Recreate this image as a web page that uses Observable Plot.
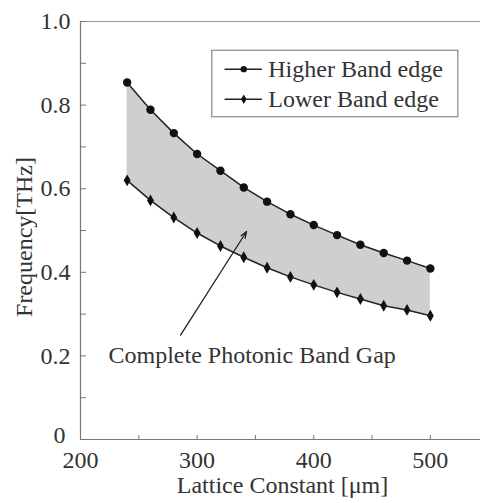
<!DOCTYPE html>
<html><head><meta charset="utf-8">
<script src="https://cdn.jsdelivr.net/npm/d3@7"></script>
<script src="https://cdn.jsdelivr.net/npm/@observablehq/plot@0.6"></script>
<style>
html,body{margin:0;padding:0;background:#fff;}
#chart{width:480px;height:503px;overflow:hidden;}
</style>
</head><body><div id="chart"></div>
<script>
const lattice = [240,260,280,300,320,340,360,380,400,420,440,460,480,500];
const higher  = [0.854,0.789,0.733,0.683,0.643,0.603,0.569,0.539,0.513,0.489,0.466,0.446,0.428,0.409];
const lower   = [0.620,0.572,0.531,0.494,0.463,0.436,0.411,0.389,0.370,0.352,0.336,0.320,0.310,0.296];
const xTickLabels = [200,300,400,500];
const yTickValues = [0,0.2,0.4,0.6,0.8,1.0];
const yTickLabels = ["0","0.2","0.4","0.6","0.8","1.0"];
const seriesNames = ["Higher Band edge","Lower Band edge"];
const xTitle = "Lattice Constant [μm]";
const yTitle = "Frequency[THz]";
const annotation = "Complete Photonic Band Gap";

const rows = lattice.map((a,i)=>({a, hi: higher[i], lo: lower[i]}));
const font = "'Liberation Serif','Times New Roman',serif";
const ink = "#222";
const textInk = "#333";
const fs = 24;
const yLabelOf = d => yTickLabels[yTickValues.indexOf(d)];

// legend placement (data units)
const legBox = {x1:313, x2:524, y1:0.771, y2:0.930};
const legRows = [{name:seriesNames[0], y:0.886, sym:"circle", r:4.2},{name:seriesNames[1], y:0.814, sym:"diamond", r:3.6}];
const legLine = {x1:324, x2:356, xm:340, xt:361};
const note = {x:224, y:0.2015, ax1:285.8, ay1:0.2496, ax2:342.4, ay2:0.4976};

const chart = Plot.plot({
  width:480, height:503,
  marginLeft:80, marginRight:0, marginTop:21, marginBottom:64,
  style:{fontFamily:font, background:"#fff", overflow:"hidden"},
  x:{domain:[200,543]},
  y:{domain:[0,1]},
  marks:[
    Plot.areaY(rows,{x:"a", y1:"lo", y2:"hi", fill:"#cfcfcf"}),
    // frame
    Plot.ruleX([200],{y1:0,y2:1,stroke:"#777",strokeWidth:1.2}),
    Plot.ruleY([0],{x1:200,x2:543,stroke:"#777",strokeWidth:1.2}),
    Plot.ruleY([1],{x1:200,x2:543,stroke:"#999",strokeWidth:1.2}),
    // inward ticks
    Plot.axisY({ticks:d3.range(0,1.001,0.1), tickSize:6, dx:6, tickFormat:()=>"", stroke:"#777", label:null}),
    Plot.axisX({ticks:d3.range(200,543,50), tickSize:4, dy:-4, tickFormat:()=>"", stroke:"#777", label:null}),
    // tick labels
    Plot.axisY({ticks:yTickValues.filter(d=>d>0), tickSize:0, tickPadding:10, tickFormat:yLabelOf, fontSize:fs, fill:textInk, label:null}),
    Plot.axisY({ticks:yTickValues.filter(d=>d===0), tickSize:0, tickPadding:15, dy:-4, tickFormat:yLabelOf, fontSize:fs, fill:textInk, label:null}),
    Plot.axisX({ticks:xTickLabels, tickSize:0, tickPadding:11, fontSize:fs, fill:textInk, label:null}),
    // x axis title
    Plot.text([xTitle],{frameAnchor:"bottom", dy:53, dx:2, fontSize:fs, fill:textInk}),
    // series
    Plot.line(rows,{x:"a", y:"hi", stroke:ink, strokeWidth:1.5}),
    Plot.line(rows,{x:"a", y:"lo", stroke:ink, strokeWidth:1.5}),
    Plot.dot(rows,{x:"a", y:"hi", r:4.2, fill:"#111", symbol:"circle"}),
    Plot.dot(rows,{x:"a", y:"lo", r:3.6, fill:"#111", symbol:"diamond"}),
    // legend
    Plot.rect([legBox],{x1:"x1",x2:"x2",y1:"y1",y2:"y2", fill:"#fff", stroke:"#888", strokeWidth:1.2}),
    Plot.ruleY(legRows,{y:"y", x1:legLine.x1, x2:legLine.x2, stroke:ink, strokeWidth:1.5}),
    Plot.dot(legRows,{x:legLine.xm, y:"y", r:"r", symbol:"sym", fill:"#111"}),
    Plot.text(legRows,{x:legLine.xt, y:"y", text:"name", textAnchor:"start", fontSize:fs, fill:textInk}),
    // annotation
    Plot.arrow([note],{x1:"ax1",y1:"ay1",x2:"ax2",y2:"ay2", stroke:ink, strokeWidth:1.3, headLength:8, headAngle:40}),
    Plot.text([note],{x:"x", y:"y", text:()=>annotation, textAnchor:"start", fontSize:fs, fill:textInk})
  ]
});
chart.setAttribute("font-family", font);
// rotated y-axis title
d3.select(chart).append("text")
  .attr("transform","translate(24,237) rotate(-90)")
  .attr("text-anchor","middle")
  .attr("dominant-baseline","central")
  .attr("font-size",fs)
  .attr("fill",textInk)
  .text(yTitle);
document.getElementById("chart").appendChild(chart);
</script>
</body></html>
